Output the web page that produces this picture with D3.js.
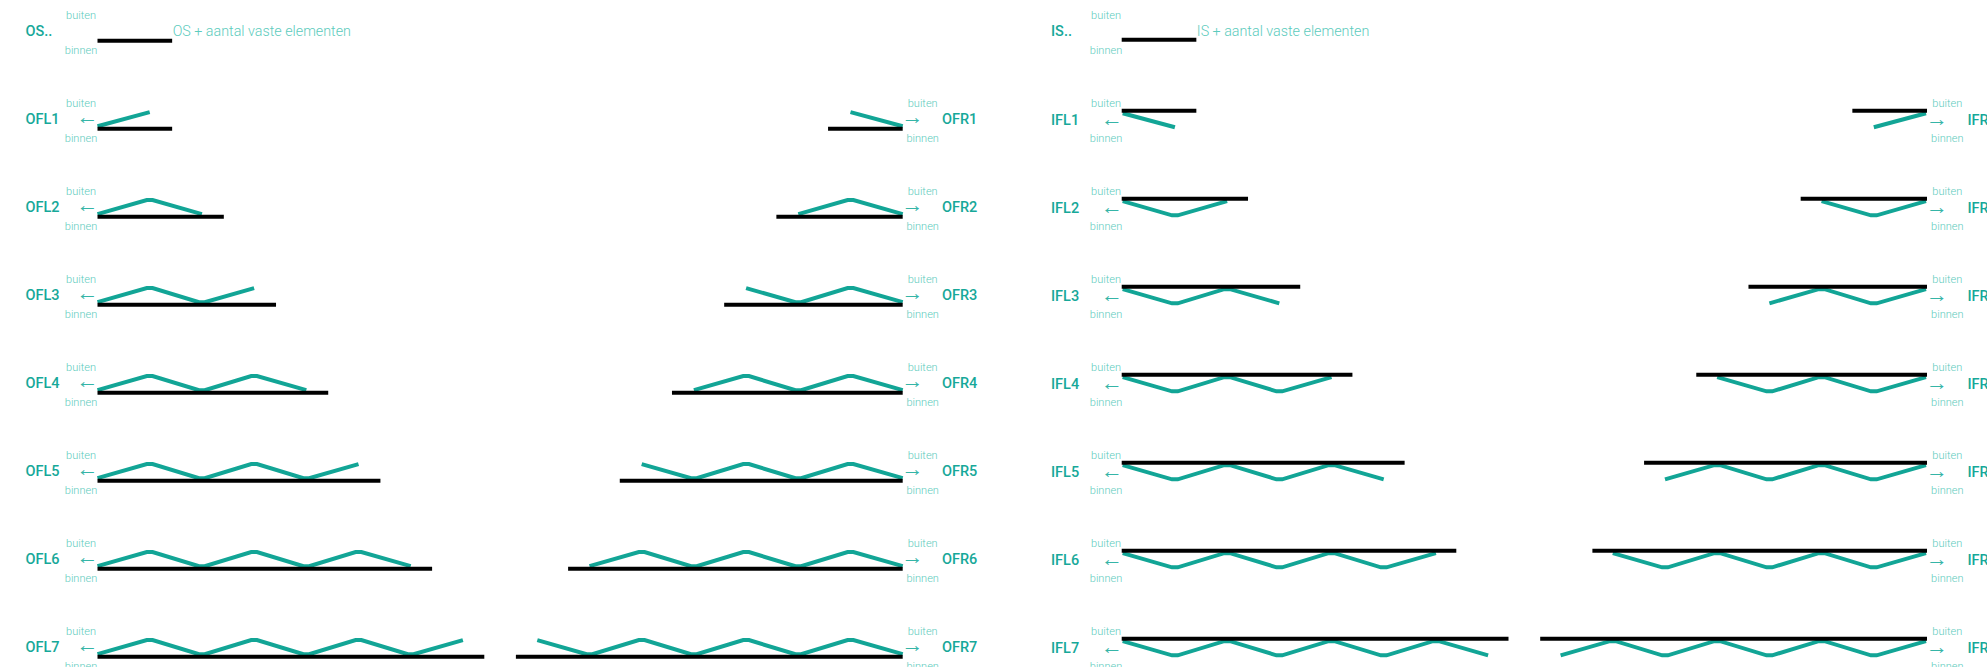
<!DOCTYPE html>
<html>
<head>
<meta charset="utf-8">
<script src="https://cdn.jsdelivr.net/npm/d3@7"></script>
<style>
body { margin: 0; background: #fff; overflow: hidden; }
text { font-family: Roboto, "Noto Sans", sans-serif; }
.code { font-size: 14.5px; font-weight: 500; fill: #17a899; }
.side { font-size: 11px; font-weight: 300; fill: #5ccbbd; }
.note { font-size: 14.3px; font-weight: 300; fill: #5ccbbd; }
.arrow { font-family: "Liberation Sans", sans-serif; font-size: 22px; font-weight: 300; fill: #35b5a7; }
</style>
</head>
<body>
<div id="chart"></div>
<script>
// rows of the table, wall length counted in modules
var rows = [1, 2, 3, 4, 5, 6, 7];
var wallModules = [1.43, 2.42, 3.42, 4.42, 5.42, 6.41, 7.41];
var foldLevels = [0, 1, 0, 1, 0, 1, 0, 1];
var sideLabels = ["buiten", "binnen"];
var headCodes = ["OS..", "IS.."];
var headNotes = ["OS + aantal vaste elementen", "IS + aantal vaste elementen"];

var width = 1987, height = 667;
var teal = "#12a596";
var flat = 0.055; // half of the flat bit at each fold, in modules

var svg = d3.select("#chart").append("svg")
    .attr("width", width)
    .attr("height", height);

// y of the labels by row, row 0 is the header row
var rowScale = d3.scaleLinear().domain([0, 7]).range([0, 616]);

var panels = [
    {prefix: "OFL", wall: 97.5,   dir: 1,  inside: false, label: 25.5,   side: 81,   arrow: 87.5,   arrowChar: "\u2190"},
    {prefix: "OFR", wall: 902.7,  dir: -1, inside: false, label: 942,    side: 922.7, arrow: 912.5, arrowChar: "\u2192"},
    {prefix: "IFL", wall: 1121.7, dir: 1,  inside: true,  label: 1051,   side: 1106, arrow: 1112,   arrowChar: "\u2190"},
    {prefix: "IFR", wall: 1927,   dir: -1, inside: true,  label: 1967.5, side: 1947.3, arrow: 1937, arrowChar: "\u2192"}
];

function sideText(g, x) {
    g.selectAll("text.side").data(sideLabels).enter().append("text")
        .attr("class", "side")
        .attr("x", x)
        .attr("y", function(d, i){ return i == 0 ? 14.7 : 50; })
        .attr("dy", ".35em")
        .attr("text-anchor", "middle")
        .text(function(d){ return d; });
}

// every inner fold gets a short flat piece
function foldPoints(n) {
    var pts = [];
    foldLevels.slice(0, n + 1).forEach(function(v, j){
        if (j == 0 || j == n) {
            pts.push({x: j, y: v});
        } else {
            pts.push({x: j - flat, y: v});
            pts.push({x: j + flat, y: v});
        }
    });
    return pts;
}

panels.forEach(function(p){
    var g = svg.append("g").attr("class", "panel " + p.prefix);

    var xScale = d3.scaleLinear().domain([0, 1]).range([p.wall, p.wall + p.dir * 52.2]);
    // level 0 sits on the wall, level 1 is the far point of the fold
    var yScale = p.inside
        ? d3.scaleLinear().domain([0, 1]).range([2.5, 16.6])
        : d3.scaleLinear().domain([0, 1]).range([-2.5, -16.6]);

    var line = d3.line()
        .x(function(d){ return xScale(d.x); })
        .y(function(d){ return yScale(d.y); });

    rows.forEach(function(n, i){
        var row = g.append("g")
            .attr("transform", "translate(0," + rowScale(n) + ")");
        var wallY = p.inside ? 110.7 - 88 : 128.7 - 88;

        sideText(row, p.side);

        row.append("text")
            .attr("class", "code")
            .attr("x", p.label)
            .attr("y", p.inside ? 32 : 31)
            .attr("dy", ".35em")
            .text(p.prefix + n);

        row.append("text")
            .attr("class", "arrow")
            .attr("x", p.arrow)
            .attr("y", p.inside ? 30 : 28.5)
            .attr("dy", ".35em")
            .attr("text-anchor", "middle")
            .text(p.arrowChar);

        row.append("path")
            .attr("d", line(foldPoints(n)))
            .attr("transform", "translate(" + (p.inside ? p.dir : 0) + "," + wallY + ")")
            .attr("fill", "none")
            .attr("stroke", teal)
            .attr("stroke-width", 4);

        row.append("line")
            .attr("x1", xScale(0))
            .attr("x2", xScale(wallModules[i]))
            .attr("y1", wallY)
            .attr("y2", wallY)
            .attr("stroke", "#000")
            .attr("stroke-width", 4);
    });
});

// header rows, wall only
[panels[0], panels[2]].forEach(function(p, i){
    var g = svg.append("g").attr("class", "head");
    var xScale = d3.scaleLinear().domain([0, 1]).range([p.wall, p.wall + 52.2]);
    var wallY = i == 0 ? 40.7 : 39.8;

    sideText(g, p.side);

    g.append("text")
        .attr("class", "code")
        .attr("x", p.label)
        .attr("y", 31)
        .attr("dy", ".35em")
        .text(headCodes[i]);

    g.append("line")
        .attr("x1", xScale(0))
        .attr("x2", xScale(wallModules[0]))
        .attr("y1", wallY)
        .attr("y2", wallY)
        .attr("stroke", "#000")
        .attr("stroke-width", 4);

    g.append("text")
        .attr("class", "note")
        .attr("x", xScale(wallModules[0]) + 0.5)
        .attr("y", 31)
        .attr("dy", ".35em")
        .text(headNotes[i]);
});
</script>
</body>
</html>
